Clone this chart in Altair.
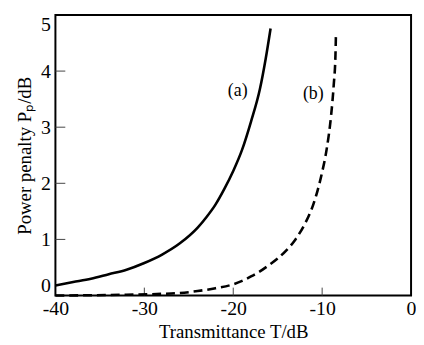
import altair as alt
import pandas as pd

# Curve (a): solid
a_x = [-40, -38, -36, -34, -32, -30, -28, -26, -24, -23, -22, -21, -20, -19, -18, -17, -16.35, -15.8]
a_y = [0.18, 0.24, 0.30, 0.38, 0.46, 0.58, 0.73, 0.93, 1.21, 1.40, 1.62, 1.90, 2.22, 2.60, 3.10, 3.68, 4.22, 4.76]

# Curve (b): dashed
b_x = [-40, -36, -32, -28, -26, -24, -22, -20, -19, -18, -17, -16, -15, -14, -13, -12, -11.5, -11, -10.5, -10, -9.5, -9.0, -8.7, -8.5, -8.45]
b_y = [0.0, 0.005, 0.015, 0.03, 0.045, 0.08, 0.13, 0.20, 0.26, 0.34, 0.43, 0.54, 0.66, 0.81, 1.00, 1.26, 1.42, 1.62, 1.88, 2.20, 2.60, 3.20, 3.75, 4.30, 4.65]

x_ticks = [-40, -30, -20, -10, 0]
y_ticks = [0, 1, 2, 3, 4, 5]
x_inner_ticks = [-30, -20, -10]
y_inner_ticks = [1, 2, 3, 4]

labels = ["(a)", "(b)"]
label_x = [-19.5, -11.0]
label_y = [3.65, 3.59]

W, H = 360, 284
FONT = "Liberation Serif"

df_a = pd.DataFrame({"x": a_x, "y": a_y})
df_b = pd.DataFrame({"x": b_x, "y": b_y})
df_lab = pd.DataFrame({"t": labels, "x": label_x, "y": label_y})
df_xt = pd.DataFrame({"x": x_inner_ticks})
df_yt = pd.DataFrame({"y": y_inner_ticks})

xs = alt.Scale(domain=[-40, 0], nice=False, zero=False)
ys = alt.Scale(domain=[0, 5], nice=False)

x_axis = alt.Axis(values=x_ticks, labelExpr="toString(datum.value)", ticks=False, grid=False,
                  domain=False, labelFont=FONT, labelFontSize=20, labelColor="black",
                  labelPadding=3, title="Transmittance T/dB", titleFont=FONT,
                  titleFontSize=19, titleFontWeight="normal", titleColor="black",
                  titlePadding=4, labelFlush=False)
y_axis = alt.Axis(values=y_ticks, labelExpr="toString(datum.value)", ticks=False, grid=False,
                  domain=False, labelFont=FONT, labelFontSize=20, labelColor="black",
                  labelPadding=5, title="Power penalty Pₚ/dB", titleFont=FONT,
                  titleFontSize=19, titleFontWeight="normal", titleColor="black",
                  titlePadding=6, labelFlush=True)

line_a = alt.Chart(df_a).mark_line(color="black", strokeWidth=2.6, interpolate="monotone").encode(
    x=alt.X("x:Q", scale=xs, axis=x_axis),
    y=alt.Y("y:Q", scale=ys, axis=y_axis),
)
line_b = alt.Chart(df_b).mark_line(color="black", strokeWidth=2.6, strokeDash=[9, 5],
                                   interpolate="monotone").encode(
    x=alt.X("x:Q", scale=xs),
    y=alt.Y("y:Q", scale=ys),
)
text = alt.Chart(df_lab).mark_text(font=FONT, fontSize=18, color="black").encode(
    x=alt.X("x:Q", scale=xs), y=alt.Y("y:Q", scale=ys), text="t:N"
)
xt = alt.Chart(df_xt).mark_rule(color="#444", strokeWidth=1).encode(
    x=alt.X("x:Q", scale=xs), y=alt.value(H), y2=alt.value(H - 8)
)
yt = alt.Chart(df_yt).mark_rule(color="#444", strokeWidth=1).encode(
    y=alt.Y("y:Q", scale=ys), x=alt.value(0), x2=alt.value(10)
)

chart = alt.layer(xt, yt, line_a, line_b, text).properties(
    width=W, height=H, background="white",
    padding={"left": 8, "top": 5, "right": 0, "bottom": 0}
).configure_view(stroke="black", strokeWidth=2)

chart.save("out.html", embed_options={"renderer": "svg", "actions": False})
